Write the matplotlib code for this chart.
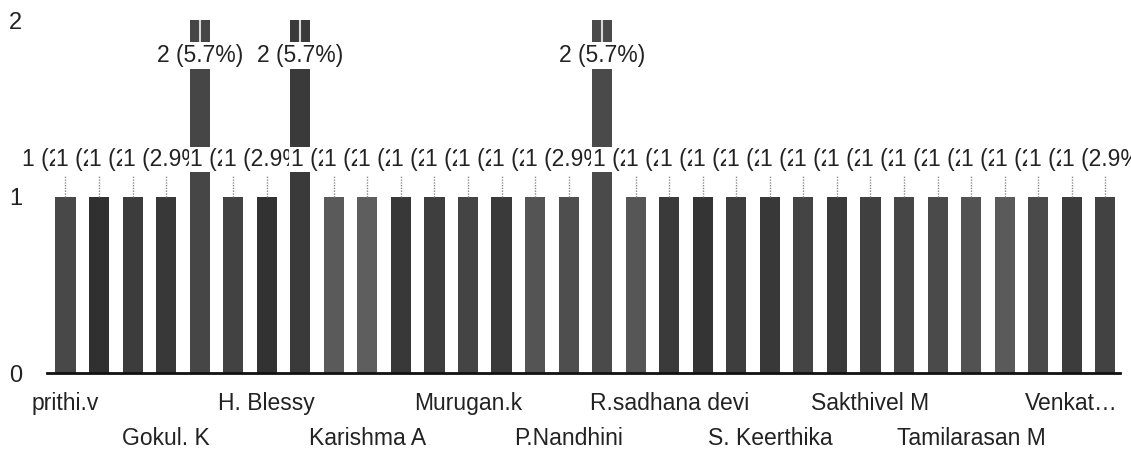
import matplotlib.pyplot as plt
import numpy as np

plt.rcParams['font.family'] = ['Liberation Sans', 'DejaVu Sans']

# responses per name (35 in total), only every third name is printed on the axis
counts = [1, 1, 1, 1, 2, 1, 1, 2, 1, 1, 1, 1, 1, 1, 1, 1,
          2, 1, 1, 1, 1, 1, 1, 1, 1, 1, 1, 1, 1, 1, 1, 1]
shown_names = ["prithi.v", "Gokul. K", "H. Blessy", "Karishma A", "Murugan.k",
               "P.Nandhini", "R.sadhana devi", "S. Keerthika", "Sakthivel M",
               "Tamilarasan M", "Venkat\u2026"]
label_every = 3
y_ticks = [0, 1, 2]

greys = ["#484848", "#303030", "#3c3c3c", "#383838", "#464646", "#424242",
         "#323232", "#3a3a3a", "#5a5a5a", "#5e5e5e", "#383838", "#3e3e3e",
         "#444444", "#3a3a3a", "#545454", "#4e4e4e", "#4a4a4a", "#565656",
         "#3a3a3a", "#343434", "#3e3e3e", "#383838", "#444444", "#3a3a3a",
         "#404040", "#464646", "#4a4a4a", "#525252", "#5a5a5a", "#4a4a4a",
         "#3c3c3c", "#424242"]

total = sum(counts)
x = np.arange(len(counts))

fig = plt.figure(figsize=(11.31, 4.53), dpi=100)
ax = fig.add_axes([0.0416, 0.1766, 0.949, 0.7792])

ax.bar(x, counts, width=0.6, color=greys, zorder=2)

# value labels with a short stem; later labels sit on top of earlier ones
for i, c in enumerate(counts):
    txt = f"{c} ({c / total * 100:.1f}%)"
    if c == 1:
        ax.plot([i, i], [c, c + 0.12], color="#8a8a8a", lw=1, ls=(0, (1, 1)), zorder=3)
        ax.text(i, c + 0.21, txt, ha="center", va="center", fontsize=16.5, color="#222222",
                zorder=4, bbox=dict(boxstyle="square,pad=0.05", fc="white", ec="none"))
    else:
        ax.plot([i, i], [c, c - 0.2], color="#d8d8d8", lw=1.5, zorder=3)
        ax.text(i, c - 0.2, txt, ha="center", va="center", fontsize=16.5, color="#222222",
                zorder=4, bbox=dict(boxstyle="square,pad=0.1", fc="white", ec="none"))

ax.set_xlim(-0.55, len(counts) - 0.55)
ax.set_ylim(0, 2)
ax.set_yticks(y_ticks)
ax.set_yticklabels([str(v) for v in y_ticks], fontsize=17, color="#222222")
ax.tick_params(axis="y", length=0, pad=18)

ax.set_xticks(x[::label_every])
ax.set_xticklabels(shown_names, fontsize=16.5, color="#222222")
ax.tick_params(axis="x", length=0)
for k, tick in enumerate(ax.xaxis.get_major_ticks()):
    tick.set_pad(14 if k % 2 == 0 else 39)

for side in ["top", "right", "left"]:
    ax.spines[side].set_visible(False)
ax.spines["bottom"].set_linewidth(2)
ax.spines["bottom"].set_color("#111111")
ax.spines["bottom"].set_zorder(5)

fig.savefig("out.png", dpi=100)
